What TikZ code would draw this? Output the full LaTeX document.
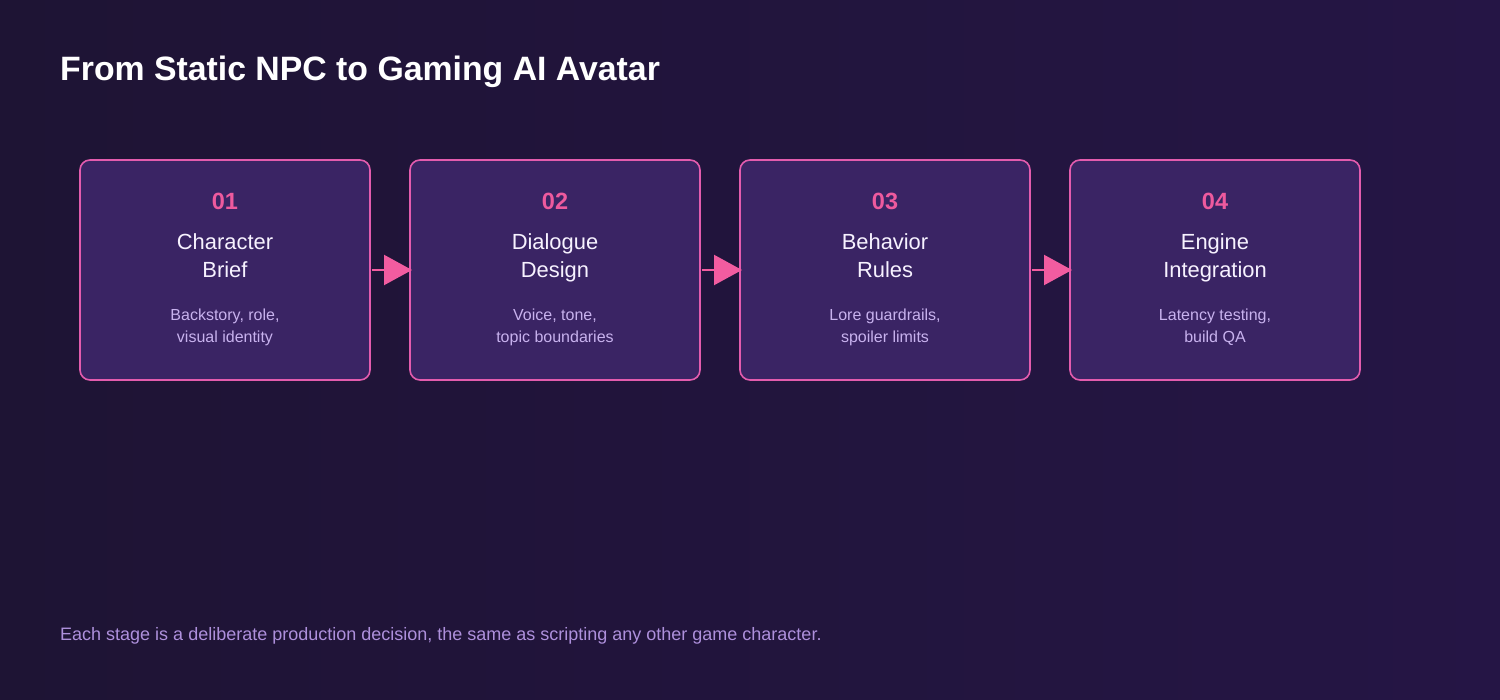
\documentclass[tikz,border=0pt]{standalone}
\usepackage{fontspec}
\setmainfont{Liberation Sans}
\usetikzlibrary{arrows.meta}
\definecolor{bgA}{HTML}{1E1434}
\definecolor{bgB}{HTML}{251545}
\definecolor{boxfill}{HTML}{3A2464}
\definecolor{boxline}{HTML}{E35CAE}
\definecolor{numcol}{HTML}{EE5A9E}
\definecolor{titlecol}{HTML}{F7F2FF}
\definecolor{desccol}{HTML}{C8B2EE}
\definecolor{footcol}{HTML}{AE90DC}
\definecolor{arrowcol}{HTML}{F25CA0}
\tikzset{
  stagebox/.style={draw=boxline, line width=1.6pt, fill=boxfill, rounded corners=10pt,
    minimum width=290pt, minimum height=220pt, inner sep=0pt, outer sep=0pt, anchor=north west},
  numtxt/.style={anchor=base, text=numcol, font=\fontsize{23.5}{26}\selectfont\bfseries, inner sep=0pt},
  ttltxt/.style={anchor=base, text=titlecol, font=\fontsize{21.9}{28}\selectfont, align=center, inner sep=0pt},
  desctxt/.style={anchor=base, text=desccol, font=\fontsize{16}{22}\selectfont, align=center, inner sep=0pt},
  flow/.style={draw=arrowcol, line width=2.2pt, -{Triangle[length=28pt,width=30pt]}, shorten <=1.5pt, shorten >=-2pt}
}
\begin{document}
\begin{tikzpicture}[x=1pt,y=-1pt]
\useasboundingbox (0,0) rectangle (1500,700);
\shade[shading angle=135, left color=bgA, right color=bgB] (0,0) rectangle (1500,700);
\node[anchor=base west, text=white, font=\fontsize{33.8}{38}\selectfont\bfseries, inner sep=0pt] (title) at (60,81) {From Static NPC to Gaming AI Avatar};

\foreach \i/\x/\n/\ta/\tb/\da/\db in {
  1/80/01/Character/Brief/{Backstory, role,}/visual identity,
  2/410/02/Dialogue/Design/{Voice, tone,}/topic boundaries,
  3/740/03/Behavior/Rules/{Lore guardrails,}/spoiler limits,
  4/1070/04/Engine/Integration/{Latency testing,}/build QA} {
  \node[stagebox] (b\i) at (\x,160) {};
  \node[numtxt] (n\i) at (\x+145,210) {\n};
  \node[ttltxt] (t\i) at (\x+145,250) {\ta};
  \node[ttltxt] (u\i) at (\x+145,278) {\tb};
  \node[desctxt] (d\i) at (\x+145,321) {\da};
  \node[desctxt] (e\i) at (\x+145,343) {\db};
}
\foreach \a/\b in {1/2,2/3,3/4} {
  \draw[flow] (b\a.east) -- (b\b.west);
}
\node[anchor=base west, text=footcol, font=\fontsize{18}{20}\selectfont, inner sep=0pt] (foot) at (60,640) {Each stage is a deliberate production decision, the same as scripting any other game character.};
\end{tikzpicture}
\end{document}
